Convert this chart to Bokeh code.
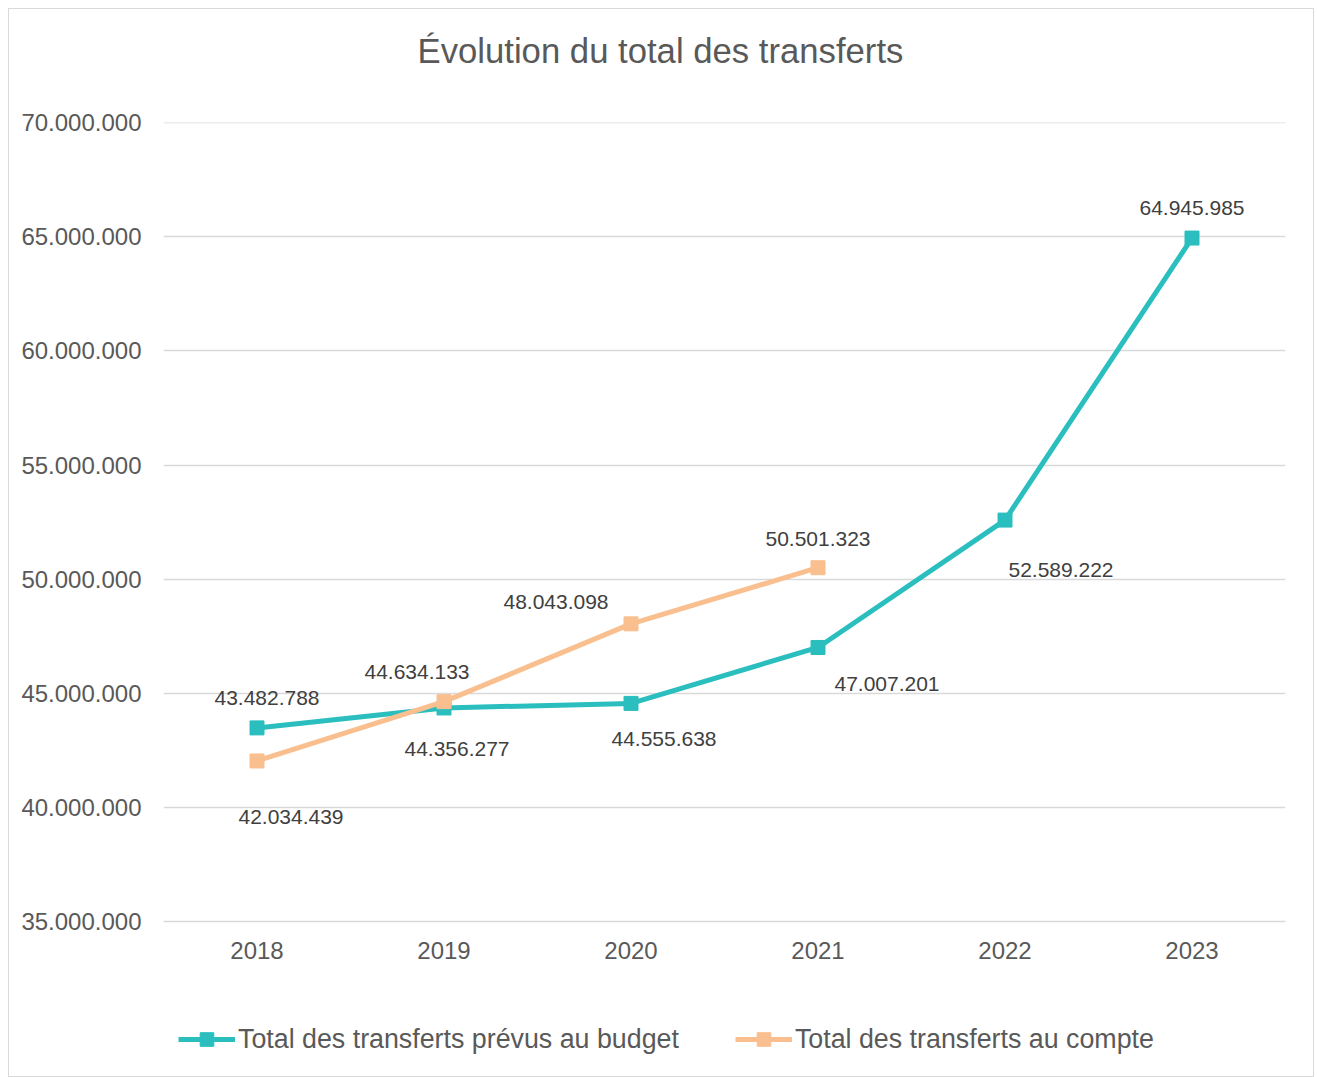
import numpy as np
from bokeh.plotting import figure
from bokeh.layouts import column
from bokeh.models import (ColumnDataSource, FactorRange, Range1d, FixedTicker,
                          CustomJSTickFormatter, Legend, LegendItem, Title)
from bokeh.core.properties import value
from bokeh.embed import file_html
from bokeh.resources import INLINE

# ---------------- data ----------------
years = ["2018", "2019", "2020", "2021", "2022", "2023"]
budget = [43482788, 44356277, 44555638, 47007201, 52589222, 64945985]
compte_years = ["2018", "2019", "2020", "2021"]
compte = [42034439, 44634133, 48043098, 50501323]
y_ticks = [35000000, 40000000, 45000000, 50000000, 55000000, 60000000, 65000000, 70000000]

title_text = "Évolution du total des transferts"
name_budget = "Total des transferts prévus au budget"
name_compte = "Total des transferts au compte"

# label offsets (screen px, style only)
budget_dx = [10, 13, 33, 69, 56, 0]
budget_dy = [-30, 41, 36, 37, 50, -30]
compte_dx = [34, -27, -75, 0]
compte_dy = [56, -30, -22, -29]

TEAL = "#2BBEBE"
ORANGE = "#F9BF8F"
GRID = "#D9D9D9"
TXT = "#595959"
LBL = "#404040"
FONT = "Liberation Sans"


def fmt(v):
    return "{:,}".format(int(v)).replace(",", ".")


src_b = ColumnDataSource(dict(x=years, y=budget, lab=[fmt(v) for v in budget],
                              dx=budget_dx, dy=budget_dy))
src_c = ColumnDataSource(dict(x=compte_years, y=compte, lab=[fmt(v) for v in compte],
                              dx=compte_dx, dy=compte_dy))

# ---------------- main chart ----------------
p = figure(width=1304, height=1000, x_range=FactorRange(factors=years),
           y_range=Range1d(35000000, 70010000),
           output_backend="svg", toolbar_location=None,
           min_border_left=154, min_border_right=28, min_border_top=113, min_border_bottom=88)
p.outline_line_color = None
p.background_fill_color = "white"
p.border_fill_color = "white"

# title (a blank spacer title sits between the frame and the real title)
p.title.text = title_text
p.title.text_font = FONT
p.title.text_font_size = "34.7px"
p.title.text_font_style = "normal"
p.title.text_color = TXT
p.title.align = "left"
p.title.offset = 254
p.title.standoff = 0
p.add_layout(Title(text=" ", text_font_size="10px", standoff=40), "above")

# axes
p.yaxis.ticker = FixedTicker(ticks=y_ticks)
p.yaxis.formatter = CustomJSTickFormatter(code="""
return Math.round(tick).toString().replace(/\\B(?=(\\d{3})+(?!\\d))/g, '.');
""")
p.yaxis.axis_line_color = None
p.yaxis.major_tick_line_color = None
p.yaxis.minor_tick_line_color = None
p.yaxis.major_label_text_font = FONT
p.yaxis.major_label_text_font_size = "24px"
p.yaxis.major_label_text_color = TXT
p.yaxis.major_label_standoff = 16

p.xaxis.axis_line_color = GRID
p.xaxis.axis_line_width = 1.3
p.xaxis.major_tick_line_color = None
p.xaxis.minor_tick_line_color = None
p.xaxis.major_label_text_font = FONT
p.xaxis.major_label_text_font_size = "24px"
p.xaxis.major_label_text_color = TXT
p.xaxis.major_label_standoff = 14

p.xgrid.grid_line_color = None
p.ygrid.grid_line_color = GRID
p.ygrid.grid_line_width = 1.3

# series
p.line("x", "y", source=src_b, color=TEAL, line_width=5)
p.scatter("x", "y", source=src_b, marker="square", size=14, color=TEAL)
p.line("x", "y", source=src_c, color=ORANGE, line_width=5)
p.scatter("x", "y", source=src_c, marker="square", size=14, color=ORANGE)

# data labels
for s in (src_b, src_c):
    p.text("x", "y", text="lab", source=s, x_offset="dx", y_offset="dy",
           text_font=value(FONT), text_font_size="21px", text_color=LBL,
           text_align="center", text_baseline="middle")

# ---------------- legend strip ----------------
q = figure(width=1304, height=67, x_range=Range1d(0, 1), y_range=Range1d(0, 1),
           output_backend="svg", toolbar_location=None,
           x_axis_location=None, y_axis_location=None,
           min_border=0, min_border_left=0, min_border_right=0,
           min_border_top=0, min_border_bottom=0)
q.outline_line_color = None
q.grid.visible = False
q.background_fill_color = "white"
q.border_fill_color = "white"

# legend-only renderers (a single NaN datum, nothing is drawn in the strip)
nan = np.array([np.nan])
qlb = q.line(x=nan, y=nan, color=TEAL, line_width=5)
qmb = q.scatter(x=nan, y=nan, marker="square", size=14, color=TEAL)
qlc = q.line(x=nan, y=nan, color=ORANGE, line_width=5)
qmc = q.scatter(x=nan, y=nan, marker="square", size=14, color=ORANGE)

legend = Legend(items=[LegendItem(label=name_budget, renderers=[qlb, qmb]),
                       LegendItem(label=name_compte, renderers=[qlc, qmc])],
                orientation="horizontal", location=(15, 20),
                glyph_width=57, glyph_height=34, label_standoff=3, spacing=56,
                padding=0, margin=0, border_line_color=None,
                background_fill_alpha=0,
                label_text_font=FONT, label_text_font_size="26.8px",
                label_text_color=TXT)
q.add_layout(legend, "center")

layout = column(p, q, spacing=0)
layout.margin = (8, 0, 0, 8)
layout.styles = {"border": "1px solid #D9D9D9"}

open("out.html", "w").write(file_html(layout, INLINE))
